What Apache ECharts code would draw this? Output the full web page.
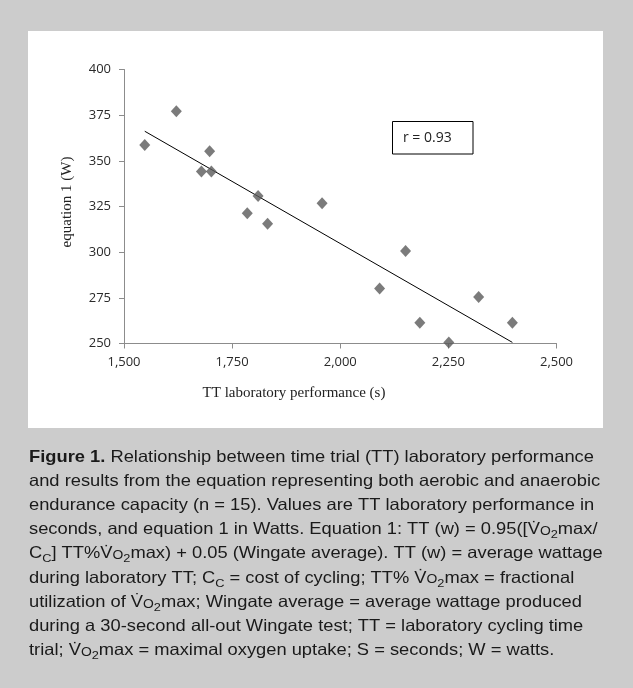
<!DOCTYPE html>
<html>
<head>
<meta charset="utf-8">
<style>
html,body{margin:0;padding:0;background:#cccccc;}
#chart{width:633px;height:688px;}
</style>
<script src="https://cdn.jsdelivr.net/npm/echarts@6/dist/echarts.min.js"></script>
</head>
<body>
<div id="chart"></div>
<script>
// ---- data ----
const ttPerformance = [1548, 1621, 1698, 1679, 1702, 1810, 1785, 1832, 1958, 2151, 2091, 2184, 2251, 2320, 2398];
const equation1     = [358.6, 377.2, 355.3, 344.2, 344.2, 330.8, 321.3, 315.5, 326.8, 300.7, 280.1, 261.3, 250.6, 275.4, 261.3];
const trendX = [1548, 2398];
const trendY = [366.2, 250.6];
const xTicks = [1500, 1750, 2000, 2250, 2500];
const yTicks = [250, 275, 300, 325, 350, 375, 400];
const rLabel = 'r = 0.93';
const xTitle = 'TT laboratory performance (s)';
const yTitle = 'equation 1 (W)';
const captionLines = [
  '{b|Figure 1.}{n| Relationship between time trial (TT) laboratory performance}',
  '{n|and results from the equation representing both aerobic and anaerobic}',
  '{n|endurance capacity (n = 15). Values are TT laboratory performance in}',
  '{n|seconds, and equation 1 in Watts. Equation 1: TT (w) = 0.95([}{v|V\u0307}{o|O}{s|2}{n|max/}',
  '{n|C}{s|C}{n|] TT%}{v|V\u0307}{o|O}{s|2}{n|max) + 0.05 (Wingate average). TT (w) = average wattage}',
  '{n|during laboratory TT; C}{s|C}{n| = cost of cycling; TT% }{v|V\u0307}{o|O}{s|2}{n|max = fractional}',
  '{n|utilization of }{v|V\u0307}{o|O}{s|2}{n|max; Wingate average = average wattage produced}',
  '{n|during a 30-second all-out Wingate test; TT = laboratory cycling time}',
  '{n|trial; }{v|V\u0307}{o|O}{s|2}{n|max = maximal oxygen uptake; S = seconds; W = watts.}'
];

const chart = echarts.init(document.getElementById('chart'), null, {renderer: 'canvas'});
const fmt = v => v.toLocaleString('en-US');
const capFont = 'Liberation Sans';
const capColor = '#1a1a1a';
const rich = {
  n: {fontFamily: capFont, fontSize: 16.5, color: capColor, verticalAlign: 'bottom'},
  v: {fontFamily: capFont, fontSize: 16.5, color: capColor, verticalAlign: 'bottom'},
  b: {fontFamily: capFont, fontSize: 16.5, fontWeight: 'bold', color: capColor, verticalAlign: 'bottom'},
  o: {fontFamily: capFont, fontSize: 12.5, color: capColor, verticalAlign: 'bottom'},
  s: {fontFamily: capFont, fontSize: 11.5, color: capColor, verticalAlign: 'bottom', padding: [0, 0, -3, 0]}
};
const captionGraphics = captionLines.map((t, i) => ({
  type: 'text', x: 29, y: 457 + i * 24.2, scaleX: 1.11, silent: true,
  style: {text: t, rich: rich, fill: capColor, verticalAlign: 'middle'}
}));

chart.setOption({
  backgroundColor: '#cccccc',
  animation: false,
  grid: {left: 124, top: 69.5, width: 432.5, height: 274, containLabel: false},
  xAxis: {
    type: 'value', min: xTicks[0], max: xTicks[xTicks.length - 1], interval: 250,
    axisLine: {show: true, lineStyle: {color: '#8c8c8c', width: 1}},
    axisTick: {show: true, length: 5, lineStyle: {color: '#8c8c8c'}},
    splitLine: {show: false},
    axisLabel: {formatter: fmt, fontFamily: 'Open Sans', fontSize: 13, color: '#2a2a2a', margin: 12}
  },
  yAxis: {
    type: 'value', min: yTicks[0], max: yTicks[yTicks.length - 1], interval: 25,
    axisLine: {show: true, lineStyle: {color: '#8c8c8c', width: 1}},
    axisTick: {show: true, length: 5, lineStyle: {color: '#8c8c8c'}},
    splitLine: {show: false},
    axisLabel: {fontFamily: 'Open Sans', fontSize: 13, color: '#2a2a2a', margin: 13}
  },
  graphic: [
    {type: 'rect', z: -10, silent: true, shape: {x: 28, y: 31, width: 575, height: 397}, style: {fill: '#ffffff'}},
    {type: 'rect', silent: true, shape: {x: 392.5, y: 121.5, width: 80.5, height: 32.5}, style: {fill: '#ffffff', stroke: '#000', lineWidth: 1}},
    {type: 'text', silent: true, x: 403, y: 138, style: {text: rLabel, fontFamily: 'Open Sans', fontSize: 14, fill: '#222', verticalAlign: 'middle'}},
    {type: 'text', silent: true, x: 294, y: 393, style: {text: xTitle, fontFamily: 'Liberation Serif', fontSize: 15, fill: '#222', align: 'center', verticalAlign: 'middle'}},
    {type: 'text', silent: true, x: 67, y: 202, rotation: Math.PI / 2, style: {text: yTitle, fontFamily: 'Liberation Serif', fontSize: 15, fill: '#222', align: 'center', verticalAlign: 'middle'}}
  ].concat(captionGraphics),
  series: [
    {
      type: 'line', data: trendX.map((x, i) => [x, trendY[i]]), symbol: 'none',
      lineStyle: {color: '#000', width: 1}, z: 3
    },
    {
      type: 'scatter', data: ttPerformance.map((x, i) => [x, equation1[i]]),
      symbol: 'diamond', symbolSize: [11, 12], clip: false,
      itemStyle: {color: '#5a5a5a'}, z: 4
    }
  ]
});
</script>
</body>
</html>
